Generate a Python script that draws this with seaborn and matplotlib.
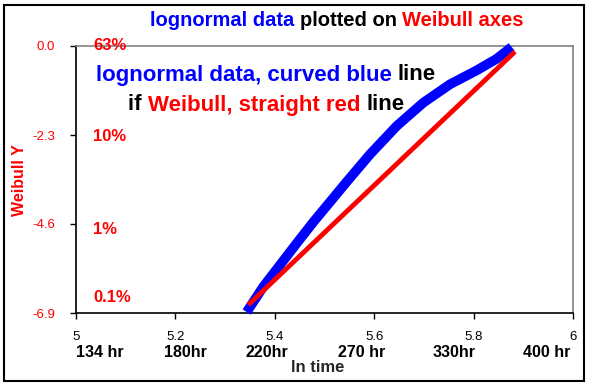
import matplotlib
matplotlib.use("Agg")
import matplotlib.pyplot as plt
import seaborn as sns
import pandas as pd
from matplotlib.patches import Rectangle

sns.set_style("white")
plt.rcParams['font.family'] = ['Liberation Sans', 'DejaVu Sans']

# data
blue_x = [5.3434, 5.3769, 5.4105, 5.4441, 5.4775, 5.5111, 5.5433, 5.5915,
          5.6453, 5.6988, 5.7525, 5.8062, 5.8465, 5.8767]
blue_y = [-6.874, -6.220, -5.659, -5.098, -4.550, -4.030, -3.530, -2.800,
          -2.067, -1.465, -0.990, -0.630, -0.330, -0.026]
red_x = [5.3467, 5.8833]
red_y = [-6.69, -0.147]

yticks = [-6.9, -4.6, -2.3, 0.0]
ytick_labels = ["-6.9", "-4.6", "-2.3", "0.0"]
xticks = [5, 5.2, 5.4, 5.6, 5.8, 6]
xtick_labels = ["5", "5.2", "5.4", "5.6", "5.8", "6"]
pct_labels = ["63%", "10%", "1%", "0.1%"]
pct_y = [0.0, -2.35, -4.75, -6.51]
hr_labels = ["134 hr", "180hr", "220hr", "270 hr", "330hr", "400 hr"]
hr_x = [5.048, 5.221, 5.384, 5.575, 5.761, 5.948]

fig = plt.figure(figsize=(5.89, 3.84), dpi=100)
ax = fig.add_axes([76/589, 1-313/384, (573-76)/589, (313-46)/384])

df_b = pd.DataFrame({"x": blue_x, "y": blue_y})
df_r = pd.DataFrame({"x": red_x, "y": red_y})
sns.lineplot(data=df_b, x="x", y="y", ax=ax, color=(0, 0, 1), lw=7,
             sort=False, solid_capstyle="butt", solid_joinstyle="round", zorder=3,
             clip_on=False)
sns.lineplot(data=df_r, x="x", y="y", ax=ax, color=(1, 0, 0), lw=3.5,
             sort=False, solid_capstyle="butt", zorder=4)

ax.set_xlim(5, 6)
ax.set_ylim(-6.9, 0.0)
ax.set_xticks(xticks)
ax.set_xticklabels(xtick_labels, fontsize=9.5, color="black")
ax.set_yticks(yticks)
ax.set_yticklabels(ytick_labels, fontsize=9.5, color="red")
ax.tick_params(axis="both", direction="out", length=4, width=1, color="black",
               left=True, bottom=True)
ax.tick_params(axis="x", pad=9)
ax.tick_params(axis="y", pad=11)
for s in ["left", "bottom"]:
    ax.spines[s].set_color("black")
    ax.spines[s].set_linewidth(1.2)
for s in ["top", "right"]:
    ax.spines[s].set_color("#808080")
    ax.spines[s].set_linewidth(1.2)
ax.set_xlabel("")
ax.set_ylabel("")
fig.text(19/589, 1-180/384, "Weibull Y", color="red", fontsize=11.5, fontweight="bold",
         rotation=90, ha="center", va="center")

for lab, yv in zip(pct_labels, pct_y):
    ax.text(5.034, yv, lab, color="red", fontsize=12, fontweight="bold",
            ha="left", va="center", zorder=5)

trans_x = ax.get_xaxis_transform()
for lab, xv in zip(hr_labels, hr_x):
    ax.text(xv, -0.147, lab, transform=trans_x, fontsize=11.5, fontweight="bold",
            ha="center", va="center", color="black", clip_on=False)
fig.text(318/589, 1-368/384, "ln time", fontsize=12, fontweight="bold",
         ha="center", va="center")

def multicolor(fig, xc, yc, parts, size):
    r = fig.canvas.get_renderer()
    texts = []
    widths = []
    for s, c in parts:
        t = fig.text(0, yc, s, color=c, fontsize=size, fontweight="bold",
                     ha="left", va="center")
        texts.append(t)
        widths.append(t.get_window_extent(renderer=r).width / fig.bbox.width)
    total = sum(widths)
    x = xc - total / 2
    for t, w in zip(texts, widths):
        t.set_x(x)
        x += w

multicolor(fig, 337/589, 1-20/384,
           [("lognormal data ", "blue"), ("plotted on ", "black"), ("Weibull axes", "red")], 14.5)
multicolor(fig, 266/589, 1-75/384,
           [("lognormal data, curved blue ", "blue"), ("line", "black")], 16)
multicolor(fig, 266/589, 1-105/384,
           [("if ", "black"), ("Weibull, straight red ", "red"), ("line", "black")], 16)

fig.patches.append(Rectangle((4/589, 3/384), 580/589, 376/384, transform=fig.transFigure,
                             fill=False, edgecolor="black", lw=1.5))

fig.savefig("out.png", dpi=100)
